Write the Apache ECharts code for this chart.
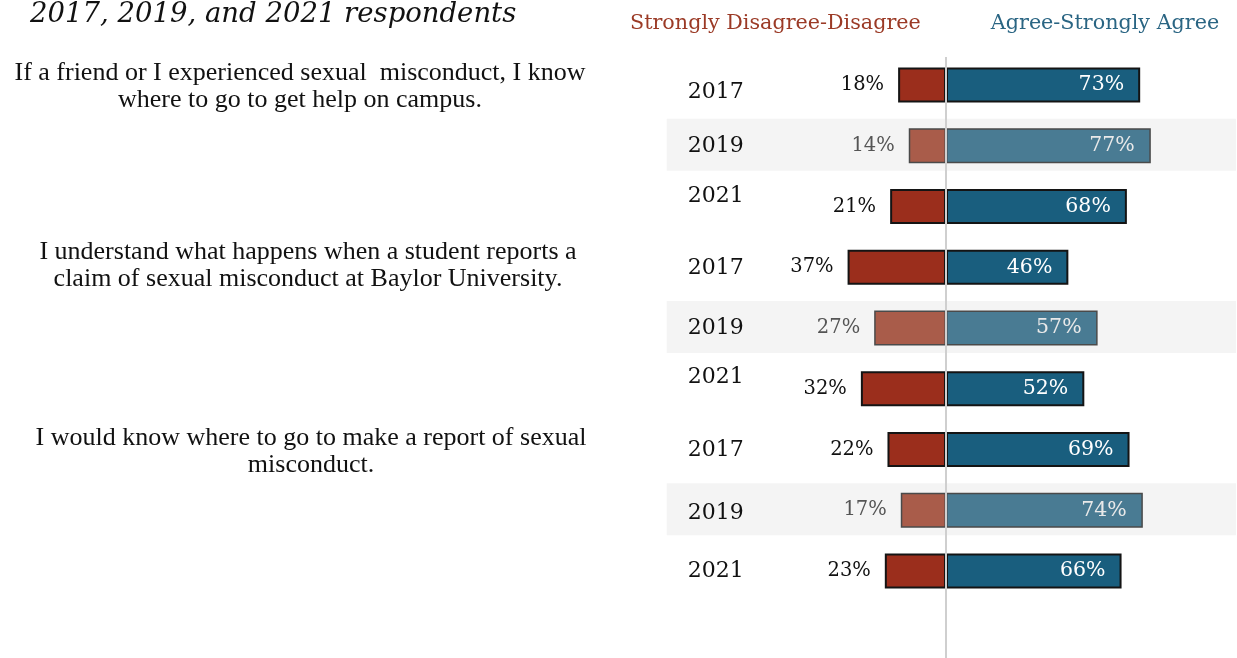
<!DOCTYPE html>
<html>
<head>
<meta charset="utf-8">
<script src="https://cdn.jsdelivr.net/npm/echarts@6/dist/echarts.min.js"></script>
<style>
  html, body { margin: 0; padding: 0; background: #ffffff; }
  #chart { width: 1237px; height: 658px; }
</style>
</head>
<body>
<div id="chart"></div>
<script>
// ---- data ----
const titleText = '2017, 2019, and 2021 respondents';
const questions = [
  'If a friend or I experienced sexual  misconduct, I know\nwhere to go to get help on campus.',
  'I understand what happens when a student reports a\nclaim of sexual misconduct at Baylor University.',
  'I would know where to go to make a report of sexual\nmisconduct.'
];
const years = ['2017', '2019', '2021'];
const disagreeName = 'Strongly Disagree-Disagree';
const agreeName = 'Agree-Strongly Agree';
// percent per question (rows) and year (columns)
const disagree = [
  [18, 14, 21],
  [37, 27, 32],
  [22, 17, 23]
];
const agree = [
  [73, 77, 68],
  [46, 57, 52],
  [69, 74, 66]
];

// ---- styling / layout ----
const RED = '#9b2e1c', RED_SOFT = '#a95c4a';
const BLUE = '#195e7e', BLUE_SOFT = '#497b93';
const NUM_FONT = 'DejaVu Serif';
const TEXT_FONT = 'Liberation Serif';
const zeroX = 946;          // pixel position of the 0% line
const pxPerPct = 2.66;
const axisMin = -105, axisMax = 109;
const gridTop = 54.6, rowStep = 60.75;
// vertical nudges for the year labels, one per row
const yearNudge = [7, 1, -10, 1, 0, -11, 1, 3, 0];
// horizontal centre of each question text and its first-line y
const questionPos = [[300, 60], [308, 239], [311, 425]];

const rowKeys = [];
const rowSoft = [];
questions.forEach((q, qi) => {
  years.forEach((y, yi) => {
    rowKeys.push(qi + '|' + y);
    rowSoft.push(y === '2019');
  });
});

const disagreeData = [];
const agreeData = [];
rowKeys.forEach((k, i) => {
  const qi = Math.floor(i / years.length), yi = i % years.length;
  const soft = rowSoft[i];
  disagreeData.push({
    value: -disagree[qi][yi],
    itemStyle: {
      color: soft ? RED_SOFT : RED,
      borderColor: soft ? '#4a4a4a' : '#141414',
      borderWidth: soft ? 1.5 : 2
    },
    label: { color: soft ? '#555555' : '#111111' }
  });
  agreeData.push({
    value: agree[qi][yi],
    itemStyle: {
      color: soft ? BLUE_SOFT : BLUE,
      borderColor: soft ? '#4a4a4a' : '#141414',
      borderWidth: soft ? 1.5 : 2
    },
    label: { color: soft ? '#e9e9e9' : '#ffffff' }
  });
});

const bandRows = rowKeys.filter((k, i) => rowSoft[i]).map(k => [axisMin, k]);

const yearRich = {};
yearNudge.forEach((n, i) => {
  yearRich['r' + i] = {
    fontFamily: NUM_FONT, fontSize: 22, color: '#111111',
    padding: n >= 0 ? [2 * n, 0, 0, 0] : [0, 0, -2 * n, 0]
  };
});

const chart = echarts.init(document.getElementById('chart'), null, { renderer: 'canvas' });

const questionGraphics = questions.map((q, i) => ({
  type: 'text',
  id: 'q' + i,
  x: questionPos[i][0],
  y: questionPos[i][1],
  style: {
    text: q,
    fontFamily: TEXT_FONT,
    fontSize: 26,
    lineHeight: 27,
    fill: '#111111',
    textAlign: 'center',
    textVerticalAlign: 'top'
  }
}));

chart.setOption({
  animation: false,
  backgroundColor: '#ffffff',
  title: {
    text: titleText,
    left: 30,
    top: 1,
    padding: 0,
    textStyle: {
      fontFamily: NUM_FONT, fontStyle: 'italic', fontWeight: 'normal',
      fontSize: 27.5, color: '#111111'
    }
  },
  legend: {
    data: [
      { name: disagreeName, icon: 'none', textStyle: { color: '#9b3a26' } },
      { name: agreeName, icon: 'none', textStyle: { color: '#2a6583' } }
    ],
    left: 620,
    top: 8,
    itemWidth: 0,
    itemHeight: 0,
    itemGap: 65,
    selectedMode: false,
    textStyle: { fontFamily: NUM_FONT, fontSize: 20.7 }
  },
  grid: {
    left: zeroX + axisMin * pxPerPct,
    width: (axisMax - axisMin) * pxPerPct,
    top: gridTop,
    height: rowStep * rowKeys.length
  },
  xAxis: {
    type: 'value',
    min: axisMin,
    max: axisMax,
    show: false,
    splitLine: { show: false }
  },
  yAxis: {
    type: 'category',
    inverse: true,
    data: rowKeys,
    axisLine: { show: false },
    axisTick: { show: false },
    splitLine: { show: false },
    axisLabel: {
      inside: true,
      margin: 21,
      formatter: (v, i) => '{r' + i + '|' + v.split('|')[1] + '}',
      rich: yearRich
    }
  },
  series: [
    {
      type: 'custom',
      name: 'band',
      z: 0,
      silent: true,
      data: bandRows,
      encode: { x: 0, y: 1 },
      renderItem: (params, api) => {
        const cs = params.coordSys;
        const c = api.coord([axisMin, api.value(1)]);
        return {
          type: 'rect',
          shape: { x: cs.x, y: c[1] - 27, width: cs.width, height: 52 },
          style: { fill: '#f4f4f4' }
        };
      }
    },
    {
      type: 'bar',
      name: disagreeName,
      data: disagreeData,
      barWidth: 35,
      barGap: '-100%',
      z: 2,
      label: {
        show: true,
        position: 'left',
        distance: 14,
        fontFamily: NUM_FONT,
        fontSize: 19.5,
        formatter: p => Math.abs(p.value) + '%'
      }
    },
    {
      type: 'bar',
      name: agreeName,
      data: agreeData,
      barWidth: 35,
      barGap: '-100%',
      z: 2,
      label: {
        show: true,
        position: 'insideRight',
        distance: 16,
        fontFamily: NUM_FONT,
        fontSize: 20.5,
        formatter: p => p.value + '%'
      }
    }
  ],
  graphic: questionGraphics
});

// 0% reference line, drawn over the bars and running to the bottom edge
const zx = chart.convertToPixel({ xAxisIndex: 0 }, 0);
chart.setOption({
  graphic: questionGraphics.concat([{
    type: 'line',
    id: 'zero',
    z: 100,
    silent: true,
    shape: { x1: zx, y1: 57, x2: zx, y2: 658 },
    style: { stroke: '#cfcfcf', lineWidth: 2 }
  }])
});
</script>
</body>
</html>
